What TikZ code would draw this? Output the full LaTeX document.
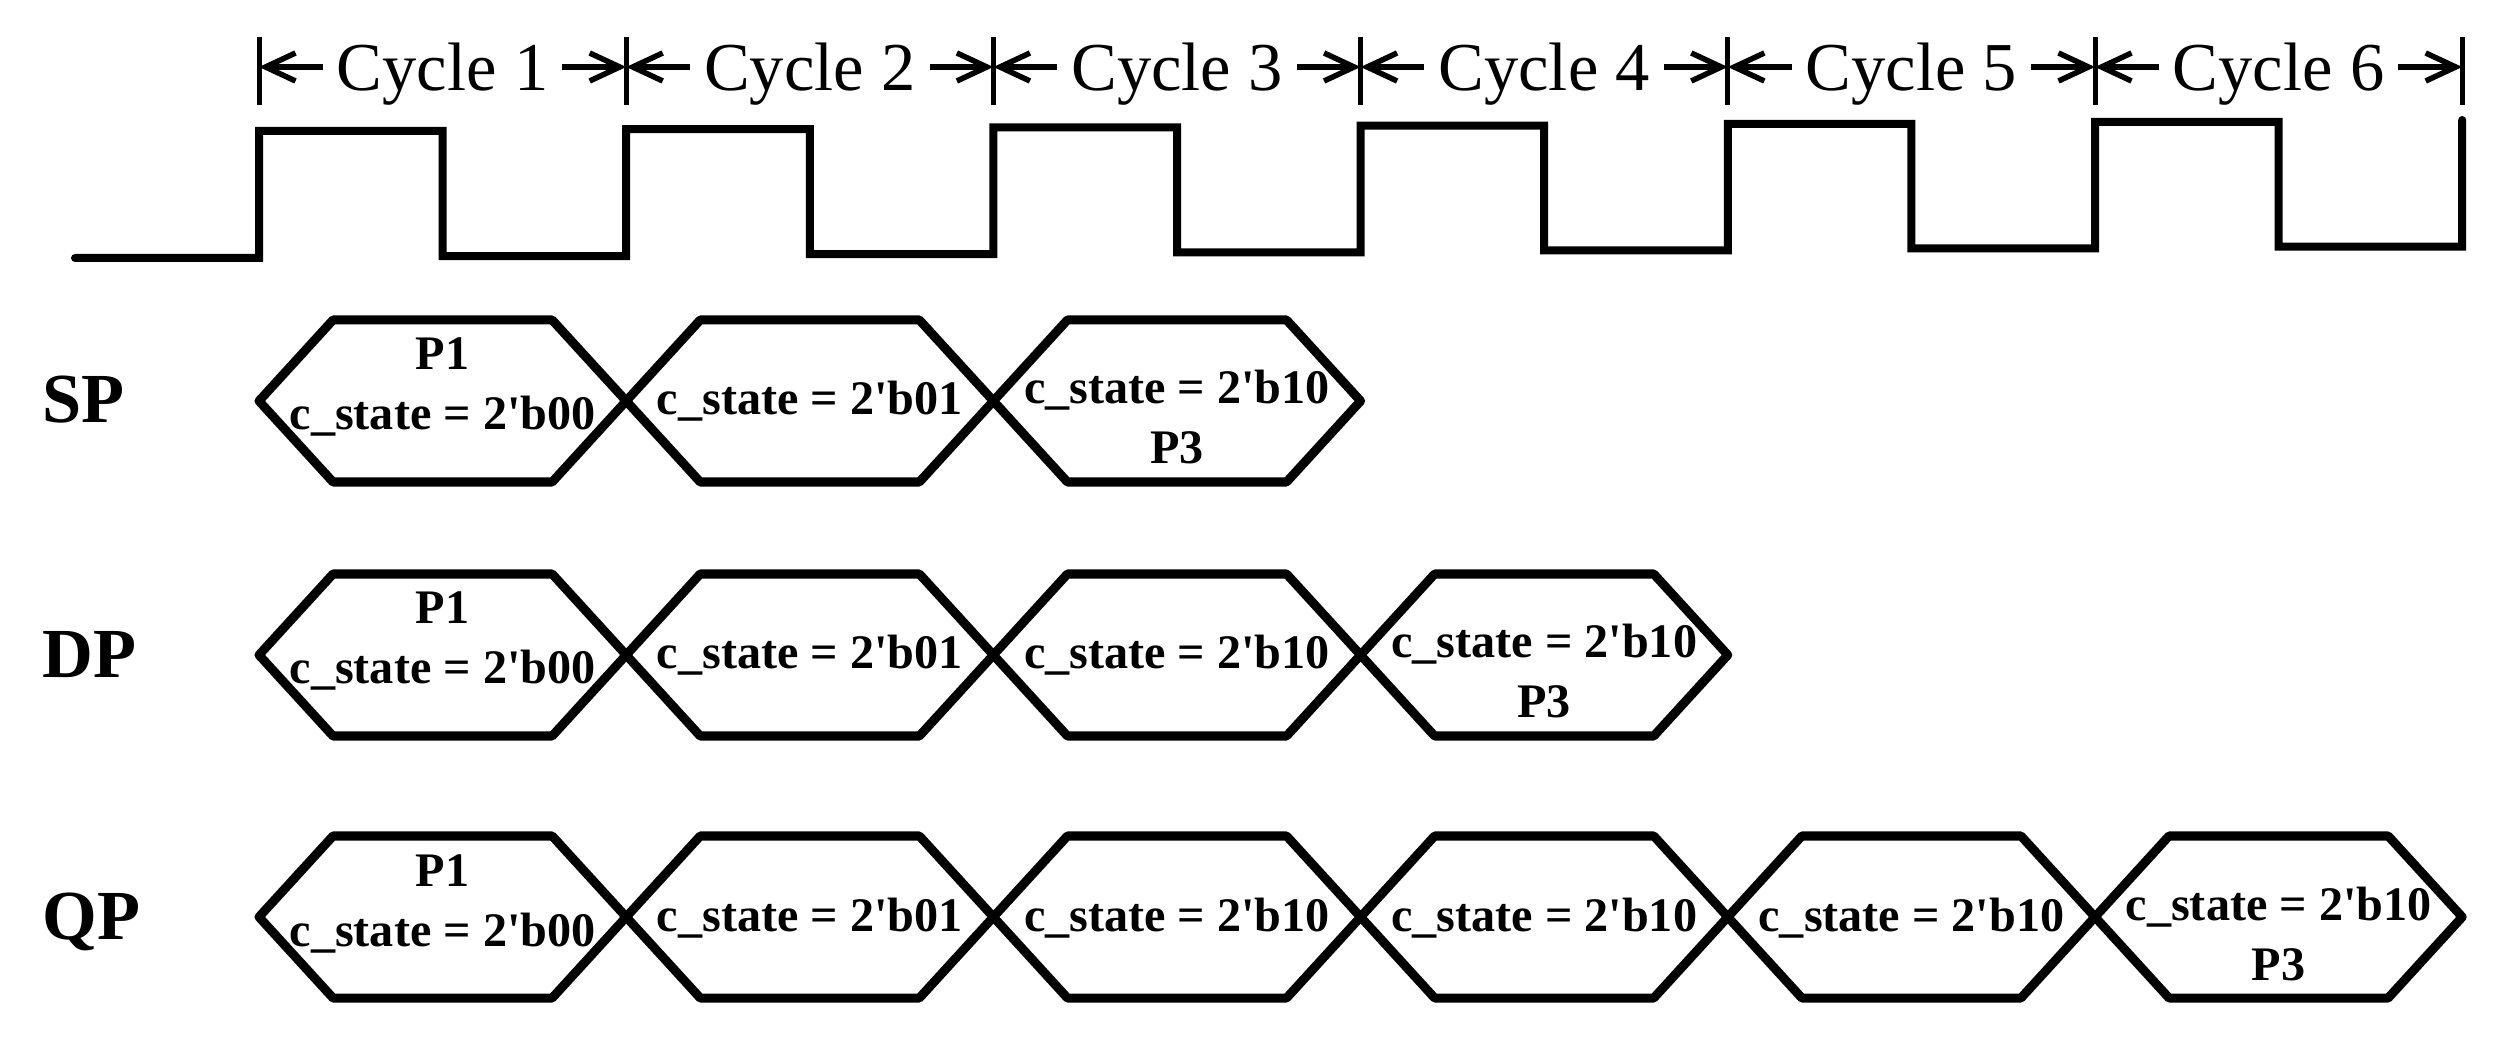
\documentclass[tikz,border=0pt]{standalone}
\usepackage{fontspec}
\setmainfont{Liberation Serif}
\usetikzlibrary{arrows.meta}
\newcommand{\stateHex}[2]{%
  \draw[hexline] ({#1},{#2}) -- ++(74,-81) -- ++(219.2,0) -- ++(74,81)
    -- ++(-74,81) -- ++(-219.2,0) -- cycle;}
\newcommand{\cst}[1]{c\_state = 2\textquotesingle b#1}

\begin{document}
\begin{tikzpicture}[
  x=0.01cm, y=-0.01cm,
  clk/.style={line width=0.08cm, line cap=round},
  hexline/.style={line width=0.09cm, line join=round},
  edgetick/.style={line width=0.05cm},
  cycspan/.style={line width=0.055cm,
    {Straight Barb[length=0.3cm,width=0.28cm]}-{Straight Barb[length=0.3cm,width=0.28cm]}},
  cyclbl/.style={fill=white, font=\fontsize{19.5}{22}\selectfont, inner xsep=4pt, inner ysep=0pt, yshift=-0.07cm},
  rowlbl/.style={font=\fontsize{20}{24}\selectfont\bfseries, anchor=base west, inner sep=0pt},
  stlbl/.style={font=\fontsize{13.7}{16}\selectfont\bfseries, anchor=base, inner sep=0pt},
]
\useasboundingbox (0,0) rectangle (2499,1046);

% ===== cycle boundaries + spans =====
\foreach \i in {0,...,6}{
  \coordinate (t\i) at ({259+367.2*\i},67);
  \draw[edgetick] (t\i) ++(0,-30) -- ++(0,68);
}
\foreach \i [evaluate=\i as \j using int(\i-1)] in {1,...,6}{
  \draw[cycspan] (t\j) -- node[cyclbl] (cyc\i) {Cycle \i} (t\i);
}

% ===== clock =====
\draw[clk] (75,258)
  \foreach \k in {0,...,5}{
    -- ({259+367.2*\k},{258-1.9*\k}) -- ({259+367.2*\k},{131-1.8*\k})
    -- ({442.6+367.2*\k},{131-1.8*\k}) -- ({442.6+367.2*\k},{256.1-1.9*\k})
  } -- (2462.2,246.6) -- (2462.2,120);

% ===== SP / DP / QP state rows =====
\foreach \rw/\ym/\n in {SP/401/3,DP/655/4,QP/917/6}{
  \node[rowlbl] (\rw) at (42,\ym+22) {\rw};
  \foreach \k in {1,...,\n}{\stateHex{259+367.2*(\k-1)}{\ym}}
  % first state carries P1
  \node[stlbl] (\rw-p1) at (442.6,\ym-31) {P1};
  \node[stlbl] (\rw-s1) at (442.6,\ym+29) {\cst{00}};
  \node[stlbl] (\rw-s2) at (809.8,\ym+14) {\cst{01}};
  % later states, the last one carries P3
  \foreach \k in {3,...,\n}{
    \ifnum\k<\n
      \node[stlbl] (\rw-s\k) at ({442.6+367.2*(\k-1)},\ym+14) {\cst{10}};
    \else
      \node[stlbl] (\rw-s\k) at ({442.6+367.2*(\k-1)},\ym+3) {\cst{10}};
      \node[stlbl] (\rw-p3) at ({442.6+367.2*(\k-1)},\ym+63) {P3};
    \fi
  }
}
\end{tikzpicture}
\end{document}
